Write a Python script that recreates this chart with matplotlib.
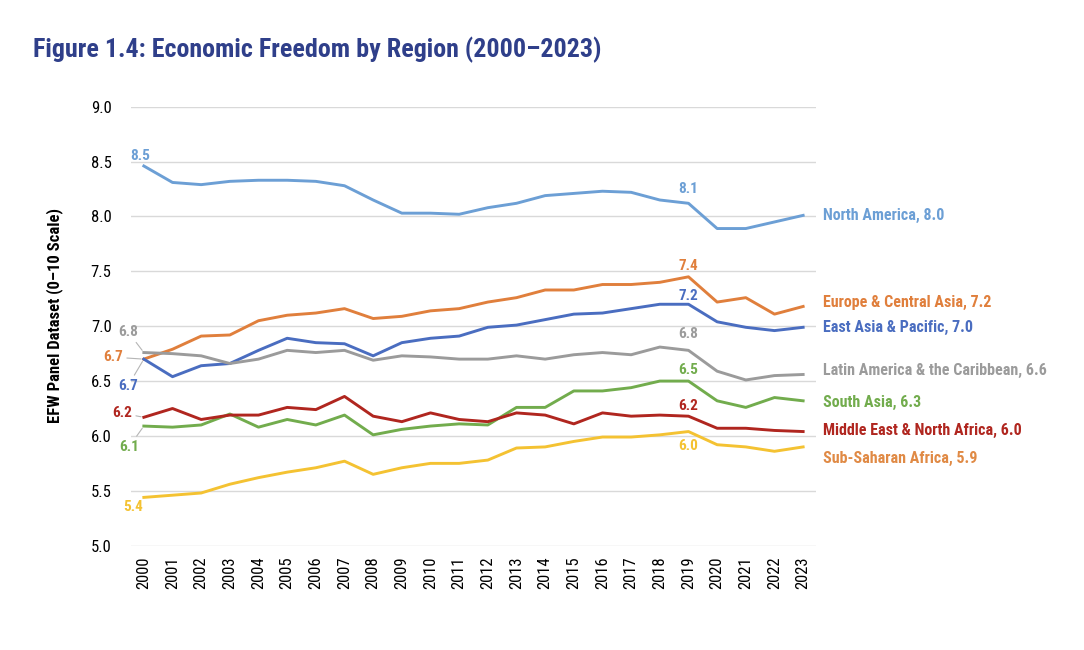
import matplotlib
matplotlib.use("Agg")
import matplotlib.pyplot as plt
from matplotlib import font_manager

# the report uses a condensed sans; take the closest one installed
names = {f.name for f in font_manager.fontManager.ttflist}
base = "Roboto"
for cand in ["Roboto Condensed", "Barlow Semi Condensed", "Liberation Sans Narrow"]:
    if cand in names:
        base = cand
        break
plt.rcParams["font.family"] = [base, "DejaVu Sans"]

years = list(range(2000, 2024))

north_america = [8.46, 8.31, 8.29, 8.32, 8.33, 8.33, 8.32, 8.28, 8.15, 8.03, 8.03, 8.02,
                 8.08, 8.12, 8.19, 8.21, 8.23, 8.22, 8.15, 8.12, 7.89, 7.89, 7.95, 8.01]
europe_central_asia = [6.70, 6.79, 6.91, 6.92, 7.05, 7.10, 7.12, 7.16, 7.07, 7.09, 7.14, 7.16,
                       7.22, 7.26, 7.33, 7.33, 7.38, 7.38, 7.40, 7.45, 7.22, 7.26, 7.11, 7.18]
east_asia_pacific = [6.70, 6.54, 6.64, 6.66, 6.78, 6.89, 6.85, 6.84, 6.73, 6.85, 6.89, 6.91,
                     6.99, 7.01, 7.06, 7.11, 7.12, 7.16, 7.20, 7.20, 7.04, 6.99, 6.96, 6.99]
latin_america = [6.76, 6.75, 6.73, 6.66, 6.70, 6.78, 6.76, 6.78, 6.69, 6.73, 6.72, 6.70,
                 6.70, 6.73, 6.70, 6.74, 6.76, 6.74, 6.81, 6.78, 6.59, 6.51, 6.55, 6.56]
south_asia = [6.09, 6.08, 6.10, 6.20, 6.08, 6.15, 6.10, 6.19, 6.01, 6.06, 6.09, 6.11,
              6.10, 6.26, 6.26, 6.41, 6.41, 6.44, 6.50, 6.50, 6.32, 6.26, 6.35, 6.32]
middle_east = [6.17, 6.25, 6.15, 6.19, 6.19, 6.26, 6.24, 6.36, 6.18, 6.13, 6.21, 6.15,
               6.13, 6.21, 6.19, 6.11, 6.21, 6.18, 6.19, 6.18, 6.07, 6.07, 6.05, 6.04]
sub_saharan = [5.44, 5.46, 5.48, 5.56, 5.62, 5.67, 5.71, 5.77, 5.65, 5.71, 5.75, 5.75,
               5.78, 5.89, 5.90, 5.95, 5.99, 5.99, 6.01, 6.04, 5.92, 5.90, 5.86, 5.90]

# (values, line colour, end label, label colour, start label, 2019 label)
regions = [
    (north_america, "#6C9FD5", "North America, 8.0", "#6C9FD5", "8.5", "8.1"),
    (europe_central_asia, "#E07F3C", "Europe & Central Asia, 7.2", "#E07F3C", "6.7", "7.4"),
    (east_asia_pacific, "#4A6DC0", "East Asia & Pacific, 7.0", "#4A6DC0", "6.7", "7.2"),
    (latin_america, "#9B9B9B", "Latin America & the Caribbean, 6.6", "#9B9B9B", "6.8", "6.8"),
    (south_asia, "#72AC4D", "South Asia, 6.3", "#72AC4D", "6.1", "6.5"),
    (middle_east, "#B0261F", "Middle East & North Africa, 6.0", "#B0261F", "6.2", "6.2"),
    (sub_saharan, "#F4C232", "Sub-Saharan Africa, 5.9", "#E08A45", "5.4", "6.0"),
]

# label offsets in pixels: start, 2019, end
start_off = [(-4, 10), (-31, 2), (-16, -27), (-16, 21), (-15, -21), (-22, 4), (-11, -10)]
start_lead = [False, True, True, True, True, True, False]
mid_off = [14, 11, 8, 16, 11, 10, -14]
end_off = [0, 4, 0, 4, -2, 1, -12]

fig = plt.figure(figsize=(10.84, 6.5), dpi=100)
ax = fig.add_axes([0.1208, 0.1605, 0.632, 0.6753])

lead = dict(arrowstyle="-", color="#B5B5B5", lw=0.8, shrinkA=1, shrinkB=2)

for i, (vals, col, name, tcol, s_lab, m_lab) in enumerate(regions):
    ax.plot(years, vals, color=col, lw=2.1, solid_joinstyle="round", zorder=3)
    ax.annotate(s_lab, (years[0], vals[0]), xytext=start_off[i], textcoords="offset pixels",
                ha="center", va="center", color=col, fontsize=11, fontweight="bold",
                arrowprops=lead if start_lead[i] else None)
    ax.annotate(m_lab, (years[19], vals[19]), xytext=(0, mid_off[i]), textcoords="offset pixels",
                ha="center", va="center", color=col, fontsize=11, fontweight="bold")
    ax.annotate(name, (years[-1], vals[-1]), xytext=(20, end_off[i]), textcoords="offset pixels",
                ha="left", va="center", color=tcol, fontsize=11.5, fontweight="bold",
                annotation_clip=False)

ax.set_xlim(1999.55, 2023.45)
ax.set_ylim(5.0, 9.0)
ax.set_yticks([5.0, 5.5, 6.0, 6.5, 7.0, 7.5, 8.0, 8.5, 9.0])
ax.set_yticklabels([f"{v:.1f}" for v in ax.get_yticks()])
ax.set_xticks(years)
ax.set_xticklabels([str(y) for y in years], rotation=90)
ax.tick_params(axis="both", length=0, labelsize=12, colors="black")
ax.tick_params(axis="x", pad=8)
ax.tick_params(axis="y", pad=14)
ax.grid(axis="y", color="#D9D9D9", lw=1.0)
ax.set_axisbelow(True)
for s in ax.spines.values():
    s.set_visible(False)

fig.text(0.0505, 0.515, "EFW Panel Dataset (0\u201310 Scale)", rotation=90,
         ha="center", va="center", fontsize=12, fontweight="bold")
fig.text(0.030, 0.923, "Figure 1.4: Economic Freedom by Region (2000\u20132023)",
         ha="left", va="center", fontsize=18.7, fontweight="bold", color="#2F3F8A")

fig.savefig("out.png", dpi=100)
